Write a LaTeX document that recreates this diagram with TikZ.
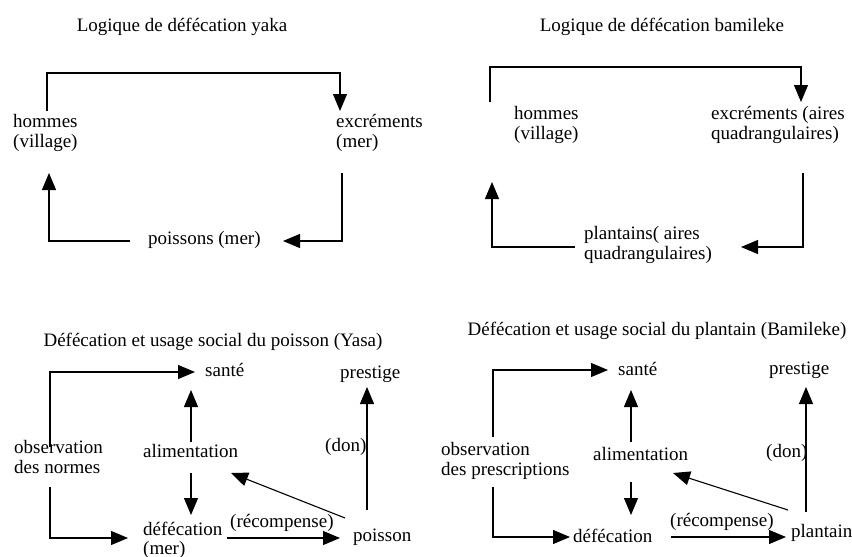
\documentclass[tikz,border=0pt]{standalone}
\usepackage{fontspec}
\setmainfont{Liberation Serif}
\usetikzlibrary{arrows.meta}
\begin{document}
\begin{tikzpicture}[x=1pt,y=-1pt,
  lbl/.style={inner sep=0pt, anchor=west, align=left, font=\fontsize{19}{20}\selectfont},
  ttl/.style={inner sep=0pt, font=\fontsize{19}{20}\selectfont},
  arr/.style={line width=1.1pt, -{Triangle[length=17pt,width=14pt]}}
]
\useasboundingbox (0,0) rectangle (852,557);

% ---------- Top left: yaka ----------
\node[ttl] (t1) at (182,27) {Logique de défécation yaka};
\node[lbl] (h1) at (13,133) {hommes\\(village)};
\node[lbl] (e1) at (336,133) {excréments\\(mer)};
\node[lbl] (p1) at (148,240) {poissons (mer)};
\coordinate (h1o) at (47,111);
\coordinate (e1i) at (340,111);
\coordinate (e1o) at (342,173);
\coordinate (p1i) at (283,241);
\coordinate (p1o) at (130,241);
\coordinate (h1i) at (49,173);
\draw[arr] (h1o) -- ++(0,-38) -| (e1i);
\draw[arr] (e1o) |- (p1i);
\draw[arr] (p1o) -| (h1i);

% ---------- Top right: bamileke ----------
\node[ttl] (t2) at (662,27) {Logique de défécation bamileke};
\node[lbl] (h2) at (514,125) {hommes\\(village)};
\node[lbl] (e2) at (711,125) {excréments (aires\\quadrangulaires)};
\node[lbl] (p2) at (584,245) {plantains( aires\\quadrangulaires)};
\coordinate (h2o) at (490,102);
\coordinate (e2i) at (801,102);
\coordinate (e2o) at (803,173);
\coordinate (p2i) at (741,247);
\coordinate (p2o) at (575,247);
\coordinate (h2i) at (492,182);
\draw[arr] (h2o) -- ++(0,-35) -| (e2i);
\draw[arr] (e2o) |- (p2i);
\draw[arr] (p2o) -| (h2i);

% ---------- Bottom left: Yasa ----------
\node[ttl] (t3) at (213,342) {Défécation et usage social du poisson (Yasa)};
\node[lbl] (s3) at (205,370) {santé};
\node[lbl] (pr3) at (340,374) {prestige};
\node[lbl] (o3) at (14,457) {observation\\des normes};
\node[lbl] (a3) at (143,451) {alimentation};
\node[lbl, font=\fontsize{19}{19}\selectfont] (d3) at (143,540) {défécation\\(mer)};
\node[lbl] (r3) at (230,523) {(récompense)};
\node[lbl] (f3) at (353,537) {poisson};
\node[lbl] (n3) at (325,447) {(don)};
\coordinate (o3u) at (50,447);
\coordinate (s3i) at (195,372);
\coordinate (a3u) at (191,442);
\coordinate (s3b) at (191,390);
\coordinate (a3d) at (191,473);
\coordinate (d3t) at (191,515);
\coordinate (o3d) at (50,487);
\coordinate (d3i) at (128,538);
\coordinate (d3o) at (227,538);
\coordinate (f3i) at (340,538);
\coordinate (f3a) at (345,518);
\coordinate (a3i) at (231,473);
\coordinate (f3u) at (367,510);
\coordinate (pr3i) at (367,387);
\draw[arr] (o3u) |- (s3i);
\draw[arr] (a3u) -- (s3b);
\draw[arr] (a3d) -- (d3t);
\draw[arr] (o3d) |- (d3i);
\draw[arr] (d3o) -- (f3i);
\draw[arr] (f3a) -- (a3i);
\draw[arr] (f3u) -- (pr3i);

% ---------- Bottom right: Bamileke ----------
\node[ttl] (t4) at (657,331) {Défécation et usage social du plantain (Bamileke)};
\node[lbl] (s4) at (618,369) {santé};
\node[lbl] (pr4) at (769,370) {prestige};
\node[lbl] (o4) at (441,461) {observation\\des prescriptions};
\node[lbl] (a4) at (593,454) {alimentation};
\node[lbl] (d4) at (573,536) {défécation};
\node[lbl] (r4) at (670,522) {(récompense)};
\node[lbl] (f4) at (791,533) {plantain};
\node[lbl] (n4) at (766,453) {(don)};
\coordinate (o4u) at (493,437);
\coordinate (s4i) at (608,370);
\coordinate (a4u) at (631,442);
\coordinate (s4b) at (631,390);
\coordinate (a4d) at (631,482);
\coordinate (d4t) at (631,515);
\coordinate (o4d) at (493,487);
\coordinate (d4i) at (570,537);
\coordinate (d4o) at (671,537);
\coordinate (f4i) at (786,537);
\coordinate (f4a) at (788,510);
\coordinate (a4i) at (673,473);
\coordinate (f4u) at (806,512);
\coordinate (pr4i) at (806,387);
\draw[arr] (o4u) |- (s4i);
\draw[arr] (a4u) -- (s4b);
\draw[arr] (a4d) -- (d4t);
\draw[arr] (o4d) |- (d4i);
\draw[arr] (d4o) -- (f4i);
\draw[arr] (f4a) -- (a4i);
\draw[arr] (f4u) -- (pr4i);
\end{tikzpicture}
\end{document}
